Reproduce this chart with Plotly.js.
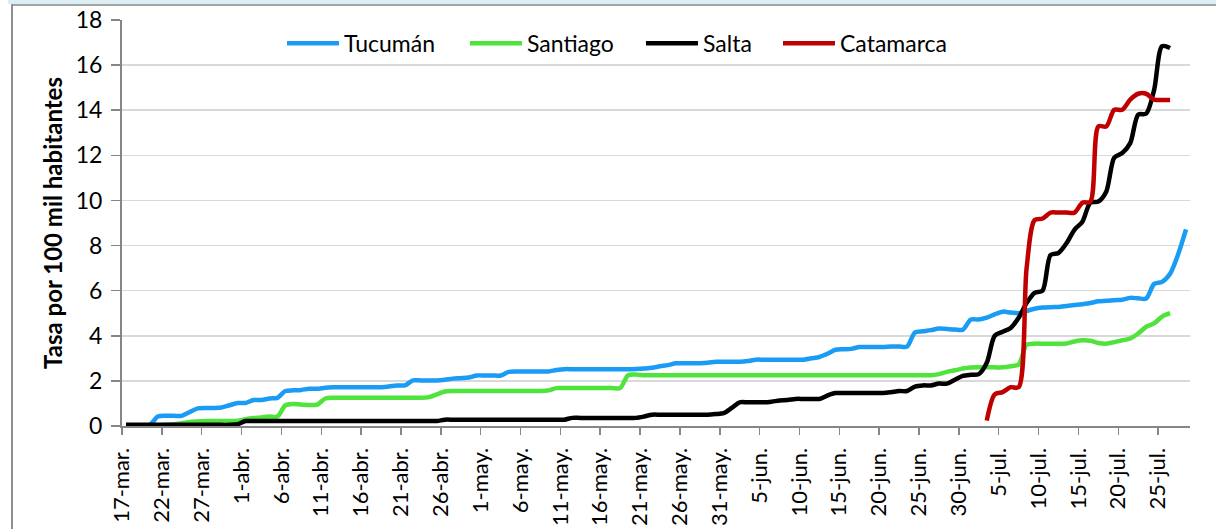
<!DOCTYPE html>
<html>
<head>
<meta charset="utf-8">
<script src="https://cdn.plot.ly/plotly-3.0.1.min.js"></script>
<style>
  html, body { margin: 0; padding: 0; background: #ffffff; }
  #wrap { position: relative; width: 1220px; height: 529px; overflow: hidden; }
  #chart { position: absolute; left: 0; top: 0; width: 1220px; height: 529px; }
  .band { position: absolute; left: 8px; top: 0; width: 1208px; height: 4px; background: #dbeef4; pointer-events: none; }
  .topline { position: absolute; left: 11px; top: 4px; width: 1205px; height: 2px; background: #a3a3a3; pointer-events: none; }
  .leftline { position: absolute; left: 11px; top: 4px; width: 2px; height: 525px; background: #8f8f8f; pointer-events: none; }
</style>
</head>
<body>
<div id="wrap">
  <div id="chart"></div>
  <div class="band"></div>
  <div class="topline"></div>
  <div class="leftline"></div>
</div>
<script>
// ---- DATA ----
const firstDay = '2020-03-17';           // day 0 of the series
const seriesNames = ['Tucumán', 'Santiago', 'Salta', 'Catamarca'];
const seriesColors = ['#1a9cf5', '#4fe33c', '#000000', '#c00000'];

// daily values, starting at day index given in seriesStart
const tucuman = [
  0, 0, 0, 0.05, 0.42, 0.45, 0.45, 0.45, 0.62, 0.78,
  0.8, 0.8, 0.82, 0.92, 1.02, 1.02, 1.15, 1.15, 1.22, 1.25,
  1.55, 1.58, 1.6, 1.65, 1.65, 1.7, 1.72, 1.72, 1.72, 1.72,
  1.72, 1.72, 1.72, 1.75, 1.8, 1.8, 2.02, 2.02, 2.02, 2.02,
  2.05, 2.1, 2.12, 2.15, 2.24, 2.24, 2.24, 2.24, 2.4, 2.42,
  2.42, 2.42, 2.42, 2.42, 2.48, 2.52, 2.52, 2.52, 2.52, 2.52,
  2.52, 2.52, 2.52, 2.52, 2.53, 2.55, 2.58, 2.65, 2.7, 2.78,
  2.78, 2.78, 2.78, 2.8, 2.85, 2.85, 2.85, 2.85, 2.88, 2.94,
  2.94, 2.94, 2.94, 2.94, 2.94, 2.94, 3.0, 3.06, 3.2, 3.38,
  3.4, 3.42, 3.5, 3.5, 3.5, 3.5, 3.52, 3.52, 3.52, 4.15,
  4.2, 4.25, 4.32, 4.3, 4.28, 4.27, 4.72, 4.72, 4.8, 4.95,
  5.07, 5.03, 5.0, 5.1, 5.2, 5.25, 5.27, 5.28, 5.32, 5.36,
  5.4, 5.45, 5.53, 5.55, 5.58, 5.6, 5.68, 5.66, 5.65, 6.3,
  6.39, 6.75, 7.6, 8.72
];
const santiago = [
  0, 0, 0, 0, 0.02, 0.05, 0.08, 0.12, 0.18, 0.2,
  0.22, 0.22, 0.22, 0.22, 0.23, 0.3, 0.35, 0.38, 0.42, 0.42,
  0.92, 0.98, 0.95, 0.93, 0.95, 1.22, 1.25, 1.25, 1.25, 1.25,
  1.25, 1.25, 1.25, 1.25, 1.25, 1.25, 1.25, 1.25, 1.28, 1.4,
  1.53, 1.55, 1.55, 1.55, 1.55, 1.55, 1.55, 1.55, 1.55, 1.55,
  1.55, 1.55, 1.55, 1.58, 1.68, 1.68, 1.68, 1.68, 1.68, 1.68,
  1.68, 1.68, 1.68, 2.25, 2.28, 2.25, 2.25, 2.25, 2.25, 2.25,
  2.25, 2.25, 2.25, 2.25, 2.25, 2.25, 2.25, 2.25, 2.25, 2.25,
  2.25, 2.25, 2.25, 2.25, 2.25, 2.25, 2.25, 2.25, 2.25, 2.25,
  2.25, 2.25, 2.25, 2.25, 2.25, 2.25, 2.25, 2.25, 2.25, 2.25,
  2.25, 2.25, 2.3, 2.4, 2.47, 2.55, 2.59, 2.6, 2.6, 2.6,
  2.6, 2.65, 2.73, 3.6, 3.65, 3.65, 3.65, 3.65, 3.66, 3.75,
  3.8, 3.78, 3.68, 3.65, 3.72, 3.8, 3.88, 4.1, 4.4, 4.55,
  4.85, 5.0
];
const salta = [
  0.05, 0.05, 0.05, 0.05, 0.05, 0.05, 0.05, 0.05, 0.05, 0.05,
  0.05, 0.05, 0.05, 0.05, 0.08, 0.22, 0.22, 0.22, 0.22, 0.22,
  0.22, 0.22, 0.22, 0.22, 0.22, 0.22, 0.22, 0.22, 0.22, 0.22,
  0.22, 0.22, 0.22, 0.22, 0.22, 0.22, 0.22, 0.22, 0.22, 0.22,
  0.28, 0.28, 0.28, 0.28, 0.28, 0.28, 0.28, 0.28, 0.28, 0.28,
  0.28, 0.28, 0.28, 0.28, 0.28, 0.28, 0.36, 0.36, 0.36, 0.36,
  0.36, 0.36, 0.36, 0.36, 0.36, 0.42, 0.5, 0.5, 0.5, 0.5,
  0.5, 0.5, 0.5, 0.5, 0.53, 0.57, 0.8, 1.05, 1.05, 1.05,
  1.05, 1.08, 1.13, 1.15, 1.2, 1.2, 1.2, 1.2, 1.35, 1.46,
  1.46, 1.46, 1.46, 1.46, 1.46, 1.46, 1.5, 1.55, 1.55, 1.75,
  1.8, 1.8, 1.88, 1.88, 2.05, 2.22, 2.27, 2.3, 2.8, 4.0,
  4.18, 4.35, 4.8, 5.45, 5.9, 6.0, 7.58, 7.67, 8.1, 8.7,
  9.06, 9.9, 9.95, 10.4, 11.9, 12.1, 12.54, 13.8, 13.85, 14.9,
  16.84, 16.76
];
const catamarca = [
  0.24, 1.4, 1.5, 1.72, 1.72, 7.0, 9.13, 9.2, 9.46, 9.46,
  9.46, 9.46, 9.9, 9.95, 13.28, 13.28, 14.02, 14.02, 14.47, 14.73,
  14.73, 14.47, 14.45, 14.45
];
const seriesValues = [tucuman, santiago, salta, catamarca];
const seriesStart = [0, 0, 0, 108];

const tickDates = [
  '2020-03-17', '2020-03-22', '2020-03-27', '2020-04-01', '2020-04-06', '2020-04-11',
  '2020-04-16', '2020-04-21', '2020-04-26', '2020-05-01', '2020-05-06', '2020-05-11',
  '2020-05-16', '2020-05-21', '2020-05-26', '2020-05-31', '2020-06-05', '2020-06-10',
  '2020-06-15', '2020-06-20', '2020-06-25', '2020-06-30', '2020-07-05', '2020-07-10',
  '2020-07-15', '2020-07-20', '2020-07-25'
];
const tickLabels = [
  '17-mar.', '22-mar.', '27-mar.', '1-abr.', '6-abr.', '11-abr.',
  '16-abr.', '21-abr.', '26-abr.', '1-may.', '6-may.', '11-may.',
  '16-may.', '21-may.', '26-may.', '31-may.', '5-jun.', '10-jun.',
  '15-jun.', '20-jun.', '25-jun.', '30-jun.', '5-jul.', '10-jul.',
  '15-jul.', '20-jul.', '25-jul.'
];
const yTitle = 'Tasa por 100 mil habitantes';

// ---- BUILD ----
const DAY = 86400000;
const t0 = Date.parse(firstDay + 'T00:00:00Z');
function pad(n) { return (n < 10 ? '0' : '') + n; }
function dayAt(i) {            // each daily value sits in the middle of its day
  const d = new Date(t0 + i * DAY + DAY / 2);
  return d.getUTCFullYear() + '-' + pad(d.getUTCMonth() + 1) + '-' + pad(d.getUTCDate()) + ' 12:00';
}

const FONT = 'Lato, "Open Sans", sans-serif';

const traces = seriesValues.map(function (vals, k) {
  return {
    type: 'scatter',
    mode: 'lines',
    name: seriesNames[k],
    x: vals.map(function (_, j) { return dayAt(seriesStart[k] + j); }),
    y: vals,
    line: { color: seriesColors[k], width: 4.5, shape: 'spline', smoothing: 0.8 },
    showlegend: false,
    hoverinfo: 'x+y+name'
  };
});

// hand-placed legend (line sample + label), in paper coordinates
const legX = [0.1545, 0.3258, 0.4906, 0.6189];   // start of each line sample
const legLen = 0.0487;
const legY = 0.943;
const shapes = [];
const annotations = [];
seriesNames.forEach(function (nm, k) {
  shapes.push({
    type: 'line', xref: 'paper', yref: 'paper',
    x0: legX[k], x1: legX[k] + legLen, y0: legY, y1: legY,
    line: { color: seriesColors[k], width: 4.5 }
  });
  annotations.push({
    xref: 'paper', yref: 'paper', x: legX[k] + legLen + 0.003, y: legY,
    xanchor: 'left', yanchor: 'middle', showarrow: false,
    text: nm, font: { family: FONT, size: 23, color: '#000000' }
  });
});

const layout = {
  width: 1220, height: 529,
  margin: { l: 122, r: 30, t: 20, b: 103, pad: 0 },
  paper_bgcolor: '#ffffff', plot_bgcolor: '#ffffff',
  font: { family: FONT, color: '#000000' },
  showlegend: false,
  xaxis: {
    type: 'date',
    range: ['2020-03-17', '2020-07-29'],
    tickmode: 'array', tickvals: tickDates, ticktext: tickLabels,
    tickangle: -90,
    tickfont: { family: FONT, size: 22, color: '#000000' },
    ticks: 'outside', ticklen: 7, tickwidth: 1.5, tickcolor: '#868686',
    ticklabelstandoff: 4,
    showline: true, linecolor: '#868686', linewidth: 2,
    showgrid: false, zeroline: false, fixedrange: true
  },
  yaxis: {
    range: [0, 18], dtick: 2, tick0: 0,
    tickfont: { family: FONT, size: 23, color: '#000000' },
    ticks: 'outside', ticklen: 9, tickwidth: 1.5, tickcolor: '#868686',
    ticklabelstandoff: 4,
    showline: true, linecolor: '#868686', linewidth: 2,
    showgrid: true, gridcolor: '#d9d9d9', gridwidth: 1.5,
    zeroline: false, fixedrange: true,
    title: { text: '<b>' + yTitle + '</b>', font: { family: FONT, size: 24, color: '#000000' }, standoff: 6 }
  },
  shapes: shapes,
  annotations: annotations
};

Plotly.newPlot('chart', traces, layout, { displayModeBar: false, staticPlot: true });
</script>
</body>
</html>
